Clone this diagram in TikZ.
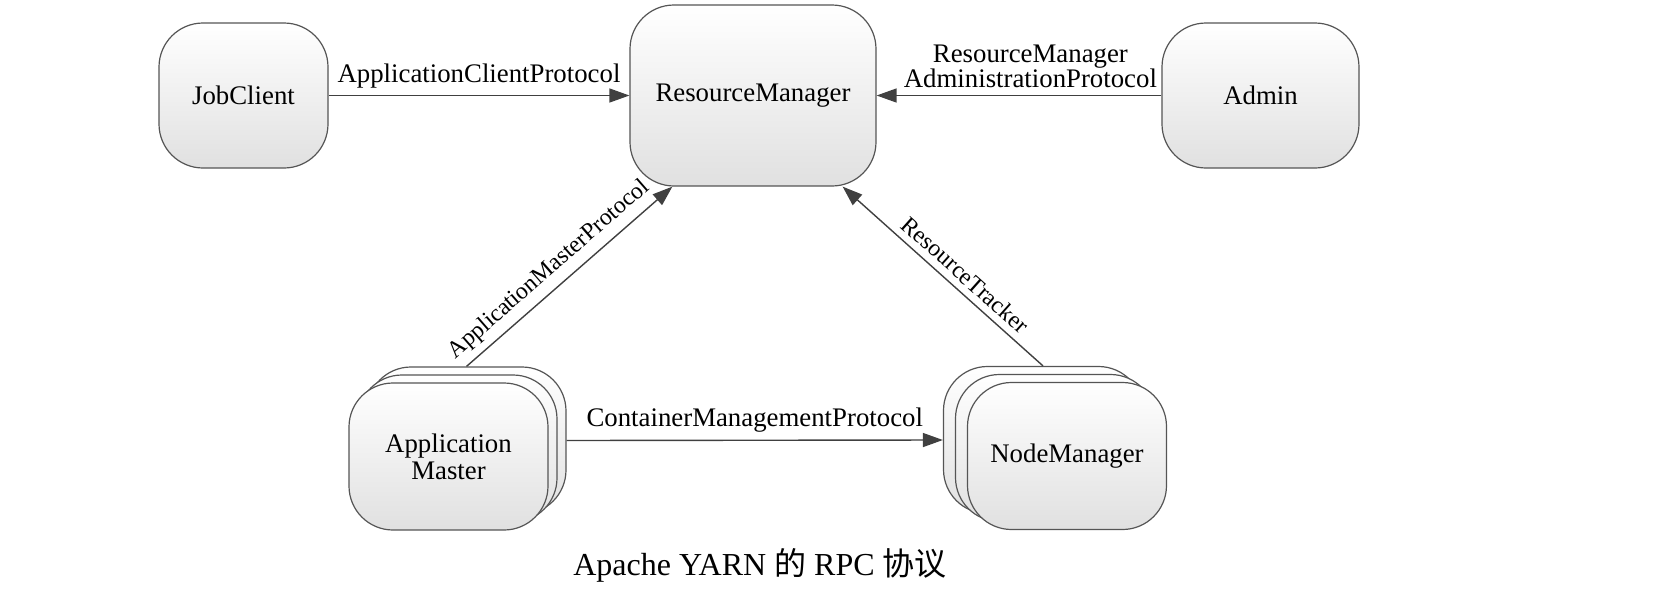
\documentclass[tikz,border=0pt]{standalone}
\usepackage{fontspec}
\setmainfont{Liberation Serif}
\newfontfamily\cjk{Noto Sans CJK SC}
\usepackage{tikz}
\usetikzlibrary{
    arrows.meta,
    positioning
}
\definecolor{edgeGray}{RGB}{64,64,64}
\definecolor{boxGray}{RGB}{85,85,85}
\tikzset{
  box/.style   = {draw=boxGray, line width=0.6pt, rounded corners=22pt,
                  top color=white, bottom color=black!12, align=center,
                  font=\fontsize{13.4}{13.5}\selectfont, inner sep=2pt},
  sbox/.style  = {box, minimum width=99.5pt, minimum height=73.5pt},
  arr/.style   = {-{Triangle[length=10pt,width=7pt]}, edgeGray, line width=0.7pt},
  lbl/.style   = {font=\fontsize{13.4}{12.5}\selectfont, text=black, inner sep=3.5pt},
  slbl/.style  = {lbl, font=\fontsize{11.9}{12}\selectfont, sloped, above}
}

\begin{document}
\begin{tikzpicture}[x=0.5pt,y=-0.5pt]
  \useasboundingbox (0,0) rectangle (1672,606);
  % top row
  \node[box, minimum width=84.5pt, minimum height=72.5pt] (jc) at (243.5,95.5) {JobClient};
  \node[box, minimum width=123pt, minimum height=90.5pt] (rm) at (753,95.5) {ResourceManager};
  \node[box, minimum width=98.5pt, minimum height=72.5pt] (admin) at (1260.5,95.5) {Admin};
  % stacked boxes, back to front
  \node[sbox] (am3) at (466.5,440.5) {};
  \node[sbox] (am2) at (457.5,448.5) {};
  \node[sbox] (am1) at (448.5,456.5) {Application\\Master};
  \node[sbox] (nm3) at (1043,440) {};
  \node[sbox] (nm2) at (1055,448) {};
  \node[sbox] (nm1) at (1067,456) {NodeManager};
  % protocols
  \draw[arr] (jc) -- node[lbl, above] {ApplicationClientProtocol} (rm);
  \draw[arr] (admin) -- node[lbl, above, pos=0.46, align=center] {ResourceManager\\AdministrationProtocol} (rm);
  \draw[arr] (am3.north) -- node[slbl, pos=0.46] {ApplicationMasterProtocol} ([xshift=21.5pt]rm.south west);
  \draw[arr] (nm3.north) -- node[slbl, pos=0.44] {ResourceTracker} ([xshift=-17pt]rm.south east);
  \draw[arr] (am3.east) -- node[lbl, above] {ContainerManagementProtocol} (nm3.west);
  % caption
  \node[anchor=base, font=\fontsize{16}{16}\selectfont] (cap) at (760,575) {Apache YARN {\cjk 的} RPC {\cjk 协议}};
\end{tikzpicture}
\end{document}
